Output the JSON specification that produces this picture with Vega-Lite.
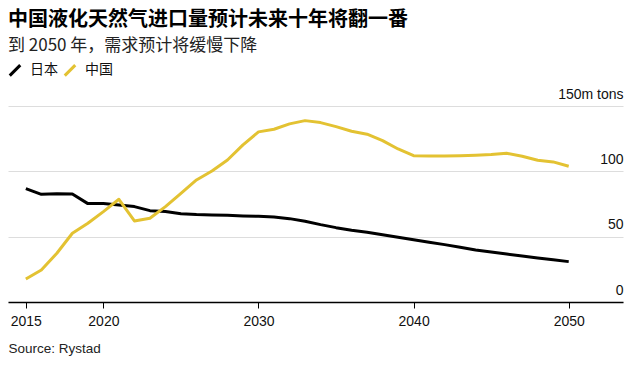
{
  "$schema": "https://vega.github.io/schema/vega-lite/v6.json",
  "width": 615,
  "height": 196,
  "autosize": {"type": "none"},
  "padding": {"top": 106, "left": 8, "right": 17, "bottom": 65},
  "background": "#ffffff",
  "title": {
    "text": "中国液化天然气进口量预计未来十年将翻一番",
    "subtitle": "到 2050 年，需求预计将缓慢下降",
    "anchor": "start",
    "frame": "group",
    "font": "Noto Sans CJK SC",
    "fontSize": 20,
    "fontWeight": "bold",
    "color": "#000000",
    "subtitleFont": "Noto Sans CJK SC",
    "subtitleFontSize": 17,
    "subtitleColor": "#222222",
    "subtitlePadding": 8,
    "offset": 9
  },
  "config": {
    "view": {"stroke": null},
    "font": "Liberation Sans"
  },
  "data": {
    "values": [
      {"year": 2015, "country": "日本", "value": 86.7},
      {"year": 2016, "country": "日本", "value": 82.4},
      {"year": 2017, "country": "日本", "value": 82.9},
      {"year": 2018, "country": "日本", "value": 82.7},
      {"year": 2019, "country": "日本", "value": 75.3},
      {"year": 2020, "country": "日本", "value": 75.3},
      {"year": 2021, "country": "日本", "value": 74.3},
      {"year": 2022, "country": "日本", "value": 73.0},
      {"year": 2023, "country": "日本", "value": 69.9},
      {"year": 2024, "country": "日本", "value": 69.2},
      {"year": 2025, "country": "日本", "value": 67.6},
      {"year": 2026, "country": "日本", "value": 66.9},
      {"year": 2027, "country": "日本", "value": 66.6},
      {"year": 2028, "country": "日本", "value": 66.4},
      {"year": 2029, "country": "日本", "value": 65.9},
      {"year": 2030, "country": "日本", "value": 65.6},
      {"year": 2031, "country": "日本", "value": 65.1},
      {"year": 2032, "country": "日本", "value": 63.8},
      {"year": 2033, "country": "日本", "value": 61.8},
      {"year": 2034, "country": "日本", "value": 59.2},
      {"year": 2035, "country": "日本", "value": 56.9},
      {"year": 2036, "country": "日本", "value": 54.9},
      {"year": 2037, "country": "日本", "value": 53.4},
      {"year": 2038, "country": "日本", "value": 51.5},
      {"year": 2039, "country": "日本", "value": 49.5},
      {"year": 2040, "country": "日本", "value": 47.7},
      {"year": 2041, "country": "日本", "value": 45.7},
      {"year": 2042, "country": "日本", "value": 43.9},
      {"year": 2043, "country": "日本", "value": 41.9},
      {"year": 2044, "country": "日本", "value": 39.8},
      {"year": 2045, "country": "日本", "value": 38.3},
      {"year": 2046, "country": "日本", "value": 36.7},
      {"year": 2047, "country": "日本", "value": 35.2},
      {"year": 2048, "country": "日本", "value": 33.7},
      {"year": 2049, "country": "日本", "value": 32.4},
      {"year": 2050, "country": "日本", "value": 30.9},
      {"year": 2015, "country": "中国", "value": 17.6},
      {"year": 2016, "country": "中国", "value": 24.5},
      {"year": 2017, "country": "中国", "value": 37.3},
      {"year": 2018, "country": "中国", "value": 52.6},
      {"year": 2019, "country": "中国", "value": 60.3},
      {"year": 2020, "country": "中国", "value": 69.2},
      {"year": 2021, "country": "中国", "value": 78.6},
      {"year": 2022, "country": "中国", "value": 62.0},
      {"year": 2023, "country": "中国", "value": 64.1},
      {"year": 2024, "country": "中国", "value": 73.0},
      {"year": 2025, "country": "中国", "value": 83.2},
      {"year": 2026, "country": "中国", "value": 93.4},
      {"year": 2027, "country": "中国", "value": 100.3},
      {"year": 2028, "country": "中国", "value": 108.7},
      {"year": 2029, "country": "中国", "value": 120.2},
      {"year": 2030, "country": "中国", "value": 130.2},
      {"year": 2031, "country": "中国", "value": 132.2},
      {"year": 2032, "country": "中国", "value": 136.3},
      {"year": 2033, "country": "中国", "value": 138.8},
      {"year": 2034, "country": "中国", "value": 137.3},
      {"year": 2035, "country": "中国", "value": 134.2},
      {"year": 2036, "country": "中国", "value": 130.7},
      {"year": 2037, "country": "中国", "value": 128.4},
      {"year": 2038, "country": "中国", "value": 123.5},
      {"year": 2039, "country": "中国", "value": 117.1},
      {"year": 2040, "country": "中国", "value": 112.0},
      {"year": 2041, "country": "中国", "value": 111.8},
      {"year": 2042, "country": "中国", "value": 111.8},
      {"year": 2043, "country": "中国", "value": 112.0},
      {"year": 2044, "country": "中国", "value": 112.3},
      {"year": 2045, "country": "中国", "value": 112.8},
      {"year": 2046, "country": "中国", "value": 113.8},
      {"year": 2047, "country": "中国", "value": 111.5},
      {"year": 2048, "country": "中国", "value": 108.5},
      {"year": 2049, "country": "中国", "value": 107.2},
      {"year": 2050, "country": "中国", "value": 103.9}
    ]
  },
  "mark": {"type": "line", "strokeWidth": 3, "strokeJoin": "round", "strokeCap": "butt"},
  "encoding": {
    "x": {
      "field": "year",
      "type": "quantitative",
      "scale": {"domain": [2013.85, 2053.5], "nice": false, "zero": false},
      "axis": {
        "values": [2015, 2020, 2030, 2040, 2050],
        "format": "d",
        "grid": false,
        "domainColor": "#000000",
        "domainWidth": 1.5,
        "tickColor": "#000000",
        "tickSize": 6,
        "tickWidth": 1,
        "labelFontSize": 14,
        "labelColor": "#111111",
        "labelPadding": 6,
        "labelFlush": false,
        "title": "Source: Rystad",
        "titleAnchor": "start",
        "titleAlign": "left",
        "titleBaseline": "alphabetic",
        "titleX": 0,
        "titleY": 50,
        "titleFontSize": 13.5,
        "titleFontWeight": "normal",
        "titleColor": "#222222"
      }
    },
    "y": {
      "field": "value",
      "type": "quantitative",
      "scale": {"domain": [0, 150], "nice": false},
      "axis": {
        "orient": "right",
        "values": [0, 50, 100, 150],
        "labelExpr": "datum.value == 150 ? '150m tons' : datum.label",
        "domain": false,
        "ticks": false,
        "gridColor": "#dddddd",
        "gridWidth": 1,
        "labelAlign": "right",
        "labelBaseline": "alphabetic",
        "labelPadding": 0,
        "labelOffset": -8,
        "labelFontSize": 14,
        "labelColor": "#111111",
        "title": null
      }
    },
    "color": {
      "field": "country",
      "type": "nominal",
      "scale": {"domain": ["日本", "中国"], "range": ["#000000", "#e3c232"]},
      "legend": {
        "title": null,
        "orient": "none",
        "direction": "horizontal",
        "legendX": 0,
        "legendY": -43,
        "symbolType": "M-1,1L1,-1",
        "symbolSize": 110,
        "symbolStrokeWidth": 3,
        "labelFont": "Noto Sans CJK SC",
        "labelFontSize": 14,
        "labelColor": "#111111",
        "labelOffset": 8,
        "columnPadding": 0
      }
    }
  }
}
